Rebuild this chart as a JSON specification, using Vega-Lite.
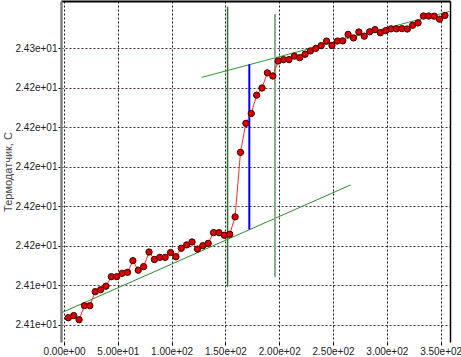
{
  "$schema": "https://vega.github.io/schema/vega-lite/v6.json",
  "width": 389,
  "height": 341,
  "autosize": {"type": "none"},
  "padding": {"left": 61, "top": 1, "right": 11, "bottom": 15},
  "background": "white",
  "config": {
    "view": {"stroke": null},
    "axis": {
      "labelFont": "Liberation Sans, Arial, sans-serif",
      "labelFontSize": 10,
      "labelColor": "#222222",
      "titleFont": "Liberation Sans, Arial, sans-serif",
      "titleFontSize": 11,
      "titleFontWeight": "normal",
      "titleColor": "#444444"
    }
  },
  "datasets": {
    "pts": [
      {"t": 4, "v": 24.1235}, {"t": 9, "v": 24.1246}, {"t": 14, "v": 24.1225}, {"t": 19, "v": 24.1296},
      {"t": 24, "v": 24.1296}, {"t": 29, "v": 24.1367}, {"t": 34, "v": 24.1377}, {"t": 39, "v": 24.1395},
      {"t": 44, "v": 24.1443}, {"t": 49, "v": 24.1443}, {"t": 54, "v": 24.1460}, {"t": 59, "v": 24.1465},
      {"t": 64, "v": 24.1524}, {"t": 69, "v": 24.1476}, {"t": 74, "v": 24.1494}, {"t": 79, "v": 24.1568},
      {"t": 84, "v": 24.1530}, {"t": 89, "v": 24.1541}, {"t": 94, "v": 24.1541}, {"t": 99, "v": 24.1565},
      {"t": 104, "v": 24.1544}, {"t": 109, "v": 24.1587}, {"t": 114, "v": 24.1604}, {"t": 119, "v": 24.1619},
      {"t": 124, "v": 24.1583}, {"t": 129, "v": 24.1600}, {"t": 134, "v": 24.1612}, {"t": 139, "v": 24.1666},
      {"t": 144, "v": 24.1666}, {"t": 149, "v": 24.1653}, {"t": 154, "v": 24.1658}, {"t": 159, "v": 24.1746},
      {"t": 164, "v": 24.2073}, {"t": 169, "v": 24.2220}, {"t": 174, "v": 24.2270}, {"t": 179, "v": 24.2363},
      {"t": 184, "v": 24.2399}, {"t": 189, "v": 24.2476}, {"t": 194, "v": 24.2460}, {"t": 199, "v": 24.2536},
      {"t": 204, "v": 24.2543}, {"t": 209, "v": 24.2543}, {"t": 214, "v": 24.2561}, {"t": 219, "v": 24.2553},
      {"t": 224, "v": 24.2570}, {"t": 229, "v": 24.2587}, {"t": 234, "v": 24.2600}, {"t": 239, "v": 24.2614},
      {"t": 244, "v": 24.2637}, {"t": 249, "v": 24.2615}, {"t": 254, "v": 24.2637}, {"t": 259, "v": 24.2638},
      {"t": 264, "v": 24.2671}, {"t": 269, "v": 24.2653}, {"t": 274, "v": 24.2683}, {"t": 279, "v": 24.2662},
      {"t": 284, "v": 24.2684}, {"t": 289, "v": 24.2695}, {"t": 294, "v": 24.2679}, {"t": 299, "v": 24.2690},
      {"t": 304, "v": 24.2699}, {"t": 309, "v": 24.2699}, {"t": 314, "v": 24.2700}, {"t": 319, "v": 24.2698},
      {"t": 324, "v": 24.2717}, {"t": 329, "v": 24.2729}, {"t": 334, "v": 24.2764}, {"t": 339, "v": 24.2764},
      {"t": 344, "v": 24.2763}, {"t": 349, "v": 24.2748}, {"t": 354, "v": 24.2767}
    ],
    "segs": [
      {"k": "low", "t": -2, "v": 24.1261, "t2": 266.4, "v2": 24.1908},
      {"k": "high", "t": 128, "v": 24.2453, "t2": 357.8, "v2": 24.2787},
      {"k": "v1", "t": 152, "v": 24.1392, "t2": 152, "v2": 24.2811},
      {"k": "v2", "t": 196.1, "v": 24.1440, "t2": 196.1, "v2": 24.2774},
      {"k": "mid", "t": 172.2, "v": 24.1683, "t2": 172.2, "v2": 24.2519}
    ]
  },
  "layer": [
    {
      "layer": [
        {
          "data": {"name": "segs"},
          "transform": [{"filter": "datum.k == 'low' || datum.k == 'high'"}],
          "mark": {"type": "rule", "strokeWidth": 1},
          "encoding": {
            "x": {
              "field": "t", "type": "quantitative",
              "scale": {"domain": [-2.8, 358.7], "nice": false, "zero": false},
              "axis": {
                "orient": "bottom", "title": null, "values": [0, 50, 100, 150, 200, 250, 300, 350],
                "labelExpr": "replace(format(datum.value, '.2e'), 'e+', 'e+0')",
                "domain": false, "ticks": true, "tickSize": 3, "tickColor": "#000000",
                "labelPadding": 1, "labelFlush": false, "labelOverlap": false,
                "grid": true, "gridColor": "#000000", "gridDash": [2, 2], "gridOpacity": 0.9, "gridWidth": 1
              }
            },
            "y": {
              "field": "v", "type": "quantitative",
              "scale": {"domain": [24.1112, 24.2840], "nice": false, "zero": false},
              "axis": {
                "orient": "left", "title": "Термодатчик, С", "titlePadding": 2,
                "values": [24.12, 24.14, 24.16, 24.18, 24.2, 24.22, 24.24, 24.26],
                "labelExpr": "replace(format(datum.value, '.2e'), 'e+', 'e+0')",
                "domain": true, "domainColor": "#808080", "domainWidth": 2.5,
                "ticks": true, "tickSize": 3, "tickColor": "#000000", "labelPadding": 1,
                "grid": true, "gridColor": "#301830", "gridDash": [2, 2], "gridOpacity": 0.9, "gridWidth": 1
              }
            },
            "x2": {"field": "t2"},
            "y2": {"field": "v2"},
            "color": {
              "field": "k", "type": "nominal", "legend": null,
              "scale": {"domain": ["low", "high", "v1", "v2", "mid"], "range": ["#2d8a2d", "#2f9a2f", "#2e6e2e", "#86b086", "#0000ee"]}
            }
          }
        },
        {
          "data": {"name": "segs"},
          "transform": [{"filter": "datum.k == 'v1'"}],
          "mark": {"type": "rule", "strokeWidth": 1.5},
          "encoding": {
            "x": {"field": "t", "type": "quantitative", "scale": {"domain": [-2.8, 358.7], "nice": false, "zero": false}},
            "y": {"field": "v", "type": "quantitative", "scale": {"domain": [24.1112, 24.2840], "nice": false, "zero": false}},
            "x2": {"field": "t2"},
            "y2": {"field": "v2"},
            "color": {"field": "k", "type": "nominal", "legend": null}
          }
        },
        {
          "data": {"name": "segs"},
          "transform": [{"filter": "datum.k == 'v2' || datum.k == 'mid'"}],
          "mark": {"type": "rule", "strokeWidth": 2},
          "encoding": {
            "x": {"field": "t", "type": "quantitative", "scale": {"domain": [-2.8, 358.7], "nice": false, "zero": false}},
            "y": {"field": "v", "type": "quantitative", "scale": {"domain": [24.1112, 24.2840], "nice": false, "zero": false}},
            "x2": {"field": "t2"},
            "y2": {"field": "v2"},
            "color": {"field": "k", "type": "nominal", "legend": null}
          }
        }
      ]
    },
    {
      "data": {"name": "pts"},
      "mark": {"type": "line", "color": "#ff2a2a", "strokeWidth": 1},
      "encoding": {
        "x": {
          "field": "t", "type": "quantitative",
          "scale": {"domain": [-2.8, 358.7], "nice": false, "zero": false},
          "axis": {"orient": "top", "title": null, "labels": false, "ticks": false, "grid": false, "domain": true, "domainColor": "#000000", "domainWidth": 2}
        },
        "y": {
          "field": "v", "type": "quantitative",
          "scale": {"domain": [24.1112, 24.2840], "nice": false, "zero": false},
          "axis": {"orient": "right", "title": null, "labels": false, "ticks": false, "grid": false, "domain": true, "domainColor": "#000000", "domainWidth": 1.5}
        }
      }
    },
    {
      "data": {"name": "pts"},
      "mark": {"type": "point", "filled": true, "fill": "#dd0000", "stroke": "#3a0000", "strokeWidth": 1, "size": 40, "opacity": 1},
      "encoding": {
        "x": {"field": "t", "type": "quantitative", "scale": {"domain": [-2.8, 358.7], "nice": false, "zero": false}, "axis": null},
        "y": {"field": "v", "type": "quantitative", "scale": {"domain": [24.1112, 24.2840], "nice": false, "zero": false}, "axis": null}
      }
    }
  ],
  "resolve": {"axis": {"x": "independent", "y": "independent"}}
}
